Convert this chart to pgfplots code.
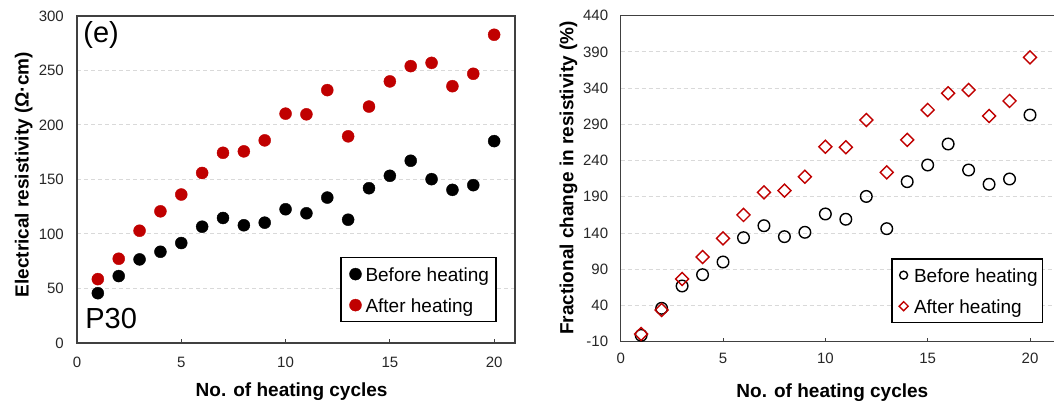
\documentclass[border=0pt]{standalone}
\usepackage{pgfplots}
\usepackage{pgfplotstable}
\pgfplotsset{compat=1.18}
\usepackage{fontspec}
\setmainfont{Liberation Sans}

\definecolor{darkred}{HTML}{C00000}
\definecolor{framegray}{HTML}{404040}
\definecolor{gridgray}{HTML}{D9D9D9}
\definecolor{ticktext}{HTML}{262626}

% Electrical resistivity (Ohm cm) per heating cycle
\pgfplotstableread{
x  before after
1  45.7   58.6
2  61.4   77.3
3  76.7   103.0
4  83.7   120.8
5  91.7   136.2
6  106.7  156.0
7  114.7  174.5
8  108.0  175.8
9  110.4  185.9
10 122.7  210.4
11 119.0  209.8
12 133.4  232.0
13 113.1  189.6
14 142.0  216.9
15 153.4  240.0
16 167.2  254.0
17 150.3  257.0
18 140.5  235.6
19 144.8  247.0
20 185.2  282.8
}\resistivity

% Fractional change in resistivity (%) per heating cycle
\pgfplotstableread{
x  before after
1  -1.2   0.6
2  36.1   33.8
3  66.9   76.6
4  82.5   106.9
5  100.0  132.7
6  133.6  164.9
7  150.1  196.2
8  135.0  198.5
9  141.0  217.8
10 166.3  259.2
11 159.0  258.4
12 190.5  296.0
13 146.0  223.8
14 210.9  268.5
15 233.9  309.9
16 262.9  332.9
17 227.0  337.5
18 207.3  301.6
19 214.6  322.3
20 302.9  382.6
}\fractional

\pgfplotsset{
  panel/.style={
    scale only axis,
    clip=false,
    axis line style={draw=framegray, line width=1.3pt},
    ymajorgrids,
    grid style={draw=gridgray, line width=1pt, dash pattern=on 4pt off 3pt},
    xtick pos=bottom,
    tick align=inside,
    major tick length=4pt,
    xtick style={draw=framegray, line width=1pt},
    ytick style={draw=none},
    ticklabel style={font=\fontsize{15}{15}\selectfont, text=ticktext, inner sep=0pt},
    label style={font=\bfseries\fontsize{19}{19}\selectfont},
    legend cell align=left,
    legend style={draw=black, line width=1.2pt, fill=white, inner ysep=9pt,
      row sep=16.5pt, column sep=4pt, font=\fontsize{19}{19}\selectfont,
      nodes={inner sep=0pt, text height=14.5pt, text depth=0pt}},
  },
  % legend symbol: one mark inside an invisible 13pt wide cell
  legL/.style={legend image code/.code={%
      \path[draw=none, fill=none] (0pt,-6pt) rectangle (13pt,6pt);
      \draw[##1] plot coordinates {(7.5pt,0pt)};}},
  legR/.style={legend image code/.code={%
      \path[draw=none, fill=none] (0pt,-6pt) rectangle (13pt,6pt);
      \draw[##1, mark size=#1] plot coordinates {(6.6pt,0pt)};}},
}

\begin{document}
\begin{tikzpicture}
\useasboundingbox (0pt,0pt) rectangle (1054pt,403pt);

% Left panel: electrical resistivity
\begin{axis}[panel,
  at={(77pt,60pt)}, anchor=south west,
  width=438pt, height=327pt,
  xmin=0, xmax=21, ymin=0, ymax=300,
  xtick={0,5,10,15,20}, xticklabels={0,5,10,15,20},
  ytick={0,50,100,150,200,250,300}, yticklabels={0,50,100,150,200,250,300},
  xticklabel style={yshift=-13.7pt},
  yticklabel style={xshift=-13pt},
  xlabel={No. of heating cycles},
  ylabel={Electrical resistivity (Ω·cm)},
  xlabel style={at={(axis description cs:0.490,0)}, anchor=base, yshift=-53.7pt},
  ylabel style={at={(axis description cs:-0.1107,0.515)}, anchor=base},
  legend style={at={(0.9582,0.2621)}, anchor=north east, inner xsep=7pt},
]
\addplot[only marks, mark=*, mark size=6pt, color=black,
  mark options={line width=0.4pt}, legL] table[x=x, y=before] {\resistivity};
\addlegendentry{Before heating}
\addplot[only marks, mark=*, mark size=6pt, color=darkred,
  mark options={line width=0.4pt}, legL] table[x=x, y=after] {\resistivity};
\addlegendentry{After heating}
\node[anchor=base west, inner sep=0pt, font=\fontsize{29}{29}\selectfont]
  at (rel axis cs:0.0142,0.9183) {(e)};
\node[anchor=base west, inner sep=0pt, font=\fontsize{29}{29}\selectfont]
  at (rel axis cs:0.0185,0.045) {P30};
\end{axis}

% Right panel: fractional change in resistivity
\begin{axis}[panel,
  at={(620.7pt,61.3pt)}, anchor=south west,
  width=435.9pt, height=326pt,
  xmin=0, xmax=21.3, ymin=-10, ymax=440,
  xtick={0,5,10,15,20}, xticklabels={0,5,10,15,20},
  ytick={-10,40,90,140,190,240,290,340,390,440},
  yticklabels={-10,40,90,140,190,240,290,340,390,440},
  xticklabel style={yshift=-11.6pt},
  yticklabel style={xshift=-12.4pt},
  xlabel={No. of heating cycles},
  ylabel={Fractional change in resistivity (\%)},
  xlabel style={at={(axis description cs:0.4856,0)}, anchor=base, yshift=-55.6pt},
  ylabel style={at={(axis description cs:-0.1087,0.502)}, anchor=base},
  legend style={at={(0.9693,0.2558)}, anchor=north east, inner xsep=5pt},
]
\addplot[only marks, mark=o, mark size=5.8pt, color=black,
  mark options={line width=1.4pt}, legR=4pt] table[x=x, y=before] {\fractional};
\addlegendentry{Before heating}
\addplot[only marks, mark=square, mark size=4.6pt, color=darkred,
  mark options={line width=1.4pt, rotate=45}, legR=3.2pt] table[x=x, y=after] {\fractional};
\addlegendentry{After heating}
\end{axis}
\end{tikzpicture}
\end{document}
